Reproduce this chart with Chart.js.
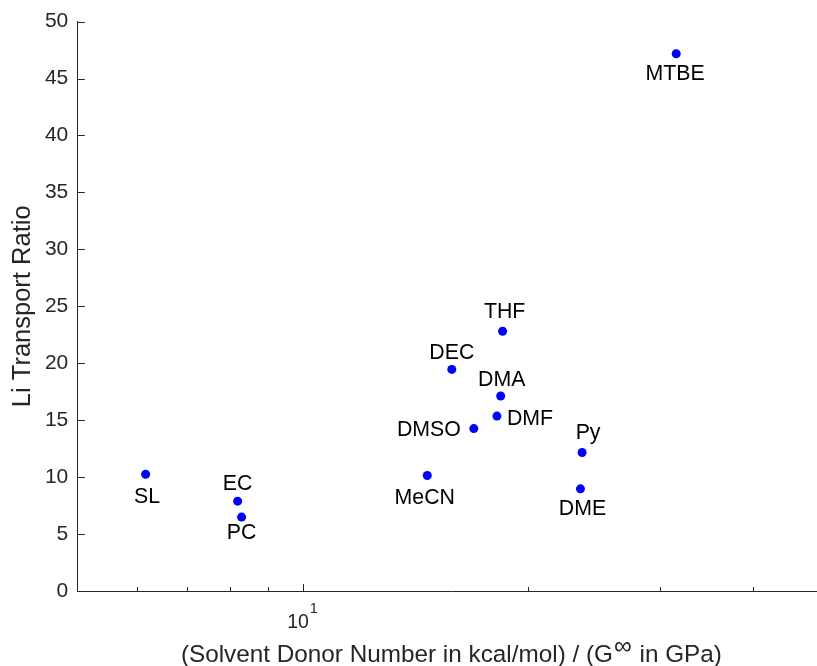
<!DOCTYPE html>
<html>
<head>
<meta charset="utf-8">
<script src="https://cdn.jsdelivr.net/npm/chart.js@4.4.1/dist/chart.umd.min.js"></script>
<style>
  html, body { margin: 0; padding: 0; overflow: hidden; background: #fff; }
  canvas { display: block; }
</style>
</head>
<body>
<canvas id="myChart" width="830" height="666"></canvas>
<script>
// data
const solvents = ['SL', 'EC', 'PC', 'MeCN', 'DEC', 'DMSO', 'DMF', 'DMA', 'THF', 'Py', 'DME', 'MTBE'];
const donorOverModulus = [6.17, 8.19, 8.29, 14.68, 15.83, 16.94, 18.19, 18.40, 18.51, 23.64, 23.52, 31.58];
const transportRatio = [10.25, 7.89, 6.49, 10.14, 19.46, 14.26, 15.36, 17.12, 22.81, 12.16, 8.97, 47.18];

const yTicks = [0, 5, 10, 15, 20, 25, 30, 35, 40, 45, 50];
const xMajorTicks = [10];
const xMinorTicks = [6, 7, 8, 9, 20, 30, 40];
const xTickBase = '10';
const xTickExp = '1';
const xTitleParts = ['(Solvent Donor Number in kcal/mol) / (G', '\u221E', ' in GPa)'];
const yTitle = 'Li Transport Ratio';

// where each name sits relative to its dot (px)
const labelPlace = {
    SL: [1.5, 23, 'center'],
    EC: [0, -17, 'center'],
    PC: [0, 16.5, 'center'],
    MeCN: [-2.5, 22.5, 'center'],
    DEC: [0, -16.5, 'center'],
    DMSO: [-13, 1.7, 'right'],
    DMF: [10, 3, 'left'],
    DMA: [1, -16, 'center'],
    THF: [2, -19, 'center'],
    Py: [6, -19, 'center'],
    DME: [2, 20, 'center'],
    MTBE: [-1, 20.5, 'center'],
};

const FONT = "'Liberation Sans', Arial, Helvetica, sans-serif";
const AXIS_COLOR = '#262626';

const extras = {
    id: 'extras',
    afterDraw(chart) {
        const { ctx, chartArea: a, scales: { x, y } } = chart;
        ctx.save();

        // inward tick marks like the original
        ctx.strokeStyle = AXIS_COLOR;
        ctx.lineWidth = 1;
        ctx.beginPath();
        yTicks.forEach(v => {
            const py = Math.round(y.getPixelForValue(v)) + 0.5;
            ctx.moveTo(a.left, py);
            ctx.lineTo(a.left + 7.5, py);
        });
        xMajorTicks.forEach(v => {
            const px = Math.round(x.getPixelForValue(v)) + 0.5;
            ctx.moveTo(px, a.bottom);
            ctx.lineTo(px, a.bottom - 7);
        });
        xMinorTicks.forEach(v => {
            const px = Math.round(x.getPixelForValue(v)) + 0.5;
            ctx.moveTo(px, a.bottom);
            ctx.lineTo(px, a.bottom - 4);
        });
        ctx.stroke();

        // 10^1 tick label
        ctx.fillStyle = AXIS_COLOR;
        ctx.textBaseline = 'alphabetic';
        ctx.textAlign = 'left';
        const baseFont = '19.5px ' + FONT;
        const expFont = '14.5px ' + FONT;
        xMajorTicks.forEach(v => {
            const px = x.getPixelForValue(v);
            ctx.font = baseFont;
            const wb = ctx.measureText(xTickBase).width;
            ctx.font = expFont;
            const we = ctx.measureText(xTickExp).width;
            const x0 = px - (wb + we + 1) / 2;
            ctx.font = baseFont;
            ctx.fillText(xTickBase, x0, a.bottom + 37);
            ctx.font = expFont;
            ctx.fillText(xTickExp, x0 + wb + 1, a.bottom + 22);
        });

        // x axis title with the superscript infinity
        const mainFont = '24.3px ' + FONT;
        const supFont = '25px ' + FONT;
        ctx.font = mainFont;
        const w1 = ctx.measureText(xTitleParts[0]).width;
        const w3 = ctx.measureText(xTitleParts[2]).width;
        ctx.font = supFont;
        const w2 = ctx.measureText(xTitleParts[1]).width;
        const cx = (a.left + a.right) / 2;
        let tx = cx - (w1 + w2 + w3 + 2) / 2;
        const base = 662;
        ctx.font = mainFont;
        ctx.fillText(xTitleParts[0], tx, base);
        tx += w1 + 1;
        ctx.font = supFont;
        ctx.textBaseline = 'middle';
        ctx.fillText(xTitleParts[1], tx, base - 15);
        tx += w2 + 1;
        ctx.textBaseline = 'alphabetic';
        ctx.font = mainFont;
        ctx.fillText(xTitleParts[2], tx, base);

        // point names
        const meta = chart.getDatasetMeta(0);
        ctx.fillStyle = '#000000';
        ctx.font = '21.3px ' + FONT;
        ctx.textBaseline = 'middle';
        meta.data.forEach((pt, i) => {
            const [dx, dy, align] = labelPlace[solvents[i]];
            ctx.textAlign = align;
            ctx.fillText(solvents[i], pt.x + dx, pt.y + dy);
        });

        ctx.restore();
    },
};

const ctx = document.getElementById('myChart').getContext('2d');

const myChart = new Chart(ctx, {
    type: 'scatter',
    data: {
        datasets: [
            {
                label: 'Li transport ratio',
                data: donorOverModulus.map((v, i) => ({ x: v, y: transportRatio[i] })),
                backgroundColor: '#0000ff',
                borderWidth: 0,
                pointRadius: 4.5,
                pointHoverRadius: 4.5,
            },
        ],
    },
    options: {
        responsive: false,
        animation: false,
        events: [],
        layout: {
            padding: { left: 0, top: 20.7, right: 2.2, bottom: 0 },
        },
        plugins: {
            legend: { display: false },
            tooltip: { enabled: false },
        },
        scales: {
            x: {
                type: 'logarithmic',
                position: 'bottom',
                min: 5,
                max: 50,
                grid: { display: false, drawTicks: false },
                border: { display: true, color: AXIS_COLOR, width: 1 },
                ticks: { display: false },
                afterFit: scale => { scale.height = 75; },
            },
            y: {
                min: 0,
                max: 50,
                afterBuildTicks: scale => { scale.ticks = yTicks.map(v => ({ value: v })); },
                grid: { display: false, drawTicks: false },
                border: { display: true, color: AXIS_COLOR, width: 1 },
                ticks: {
                    color: AXIS_COLOR,
                    padding: 9,
                    font: { family: FONT, size: 21 },
                },
                title: {
                    display: true,
                    text: yTitle,
                    color: AXIS_COLOR,
                    font: { family: FONT, size: 25.5 },
                    padding: { top: 8, bottom: 0 },
                },
                afterFit: scale => { scale.width = 77.3; },
            },
        },
    },
    plugins: [extras],
});
</script>
</body>
</html>
